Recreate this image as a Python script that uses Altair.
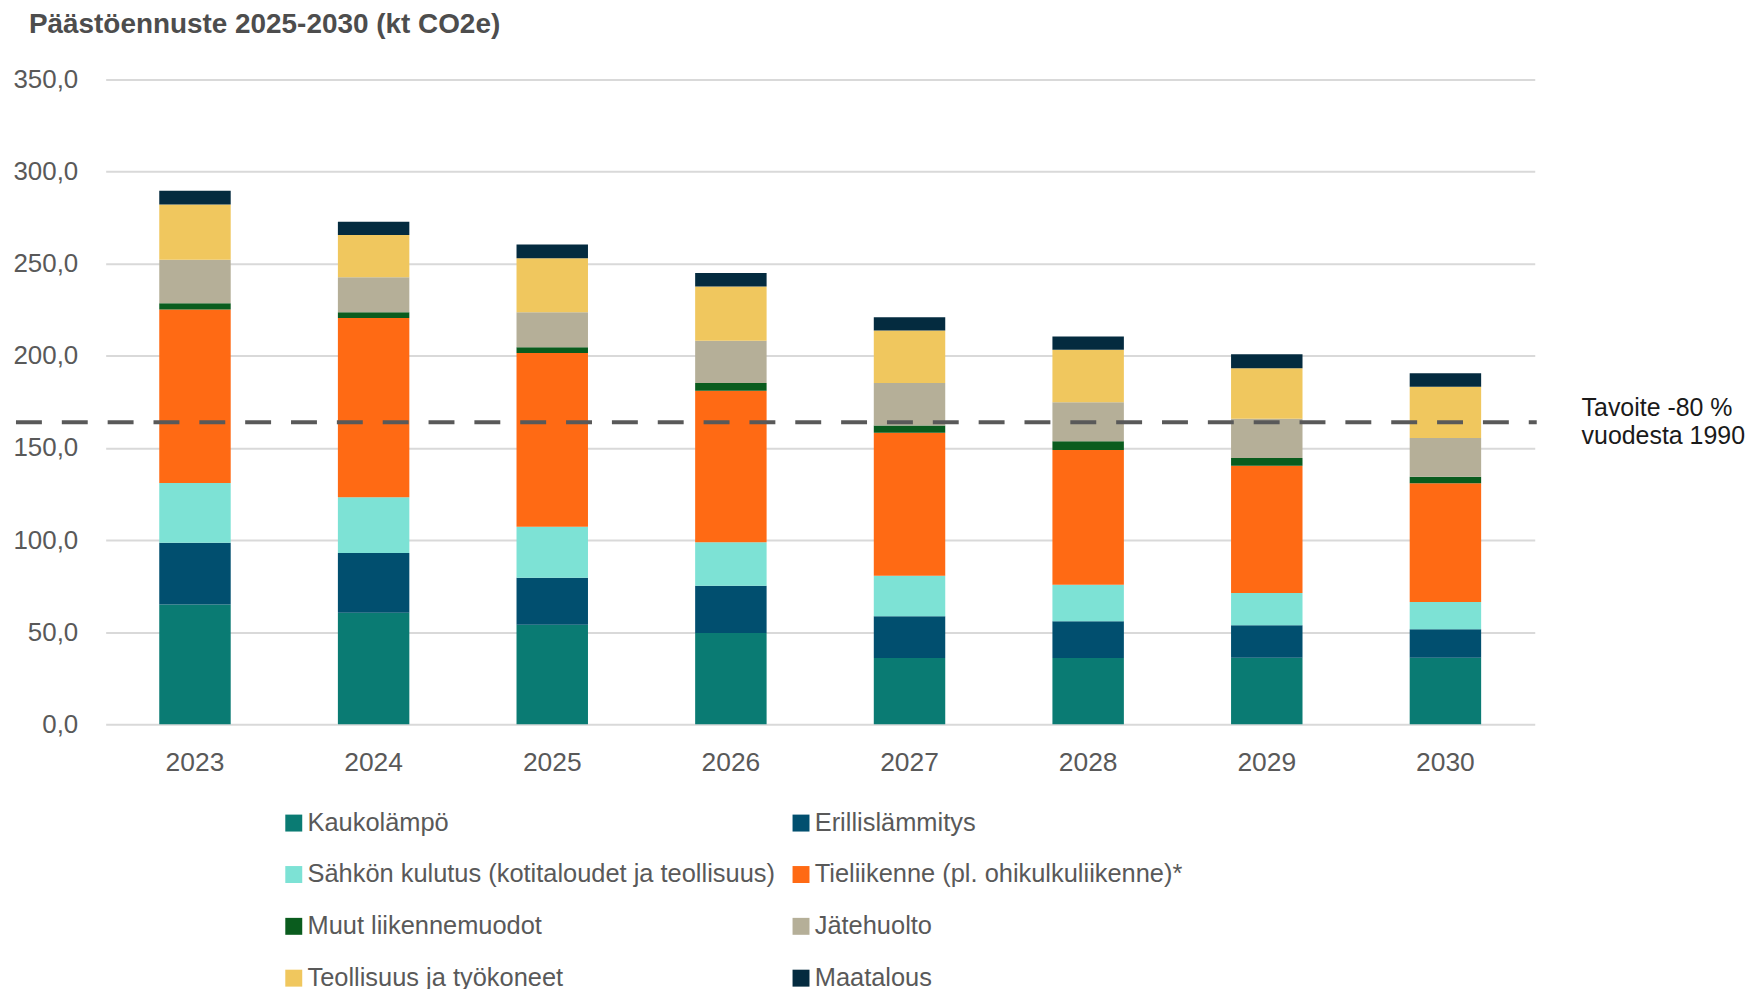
import altair as alt
import pandas as pd

years = ["2023", "2024", "2025", "2026", "2027", "2028", "2029", "2030"]
series = [
    "Kaukolämpö",
    "Erillislämmitys",
    "Sähkön kulutus (kotitaloudet ja teollisuus)",
    "Tieliikenne (pl. ohikulkuliikenne)*",
    "Muut liikennemuodot",
    "Jätehuolto",
    "Teollisuus ja työkoneet",
    "Maatalous",
]
colors = ["#0A7B73", "#014F6F", "#7DE2D5", "#FF6A14", "#0A5C1E", "#B5AF98", "#F0C75E", "#042B3F"]

kaukolampo = [65.0, 60.6, 54.0, 49.6, 36.0, 36.0, 36.1, 36.1]
erillislammitys = [33.6, 32.4, 25.6, 25.6, 22.6, 19.9, 17.7, 15.5]
sahko = [32.4, 30.2, 27.6, 23.6, 22.0, 19.8, 17.4, 14.8]
tieliikenne = [94.2, 97.4, 94.4, 82.3, 77.7, 73.2, 69.2, 64.5]
muut = [3.4, 3.0, 3.0, 4.2, 3.9, 4.7, 4.1, 3.4]
jatehuolto = [23.6, 19.0, 19.0, 22.9, 23.1, 21.2, 21.4, 21.1]
teollisuus = [30.0, 23.0, 29.4, 29.4, 28.5, 28.5, 27.4, 27.8]
maatalous = [7.4, 7.2, 7.4, 7.4, 7.2, 7.2, 7.6, 7.4]

target_value = 164.0
target_label = ["Tavoite -80 %", "vuodesta 1990"]
title_text = "Päästöennuste 2025-2030 (kt CO2e)"

all_values = [kaukolampo, erillislammitys, sahko, tieliikenne, muut, jatehuolto, teollisuus, maatalous]
rows = []
for si, (name, vals) in enumerate(zip(series, all_values)):
    for y, v in zip(years, vals):
        rows.append({"Vuosi": y, "Sektori": name, "Arvo": v, "ord": si})
df = pd.DataFrame(rows)

# legend is filled column by column: reorder so rows read pairwise like the original
legend_idx = [0, 2, 4, 6, 1, 3, 5, 7]
legend_domain = [series[i] for i in legend_idx]
legend_range = [colors[i] for i in legend_idx]

W, H = 1434, 647
FONT = "Liberation Sans, Arial, sans-serif"

bars = alt.Chart(df).mark_bar(strokeWidth=0).encode(
    x=alt.X("Vuosi:N", sort=years, title=None,
            scale=alt.Scale(paddingInner=0.6, paddingOuter=0.3),
            axis=alt.Axis(labelAngle=0, labelFontSize=26.5, labelColor="#595959",
                          labelFont=FONT, ticks=False, domain=False, grid=False,
                          labelPadding=25)),
    y=alt.Y("Arvo:Q", stack="zero", title=None,
            scale=alt.Scale(domain=[0, 350], nice=False),
            axis=alt.Axis(values=[0, 50, 100, 150, 200, 250, 300, 350],
                          labelExpr="replace(format(datum.value, '.1f'), '.', ',')",
                          labelFontSize=26, labelColor="#595959", labelFont=FONT,
                          ticks=False, domain=False, labelPadding=28,
                          gridColor="#D9D9D9", gridWidth=2)),
    color=alt.Color("Sektori:N",
                    scale=alt.Scale(domain=legend_domain, range=legend_range),
                    legend=alt.Legend(title=None, orient="none", legendX=176, legendY=733,
                                      columns=2, columnPadding=13, rowPadding=25,
                                      symbolType="square", symbolSize=289, symbolStrokeWidth=0,
                                      labelFontSize=25.5, labelColor="#595959", labelFont=FONT,
                                      labelOffset=1, padding=0, labelLimit=700)),
    order=alt.Order("ord:Q", sort="ascending"),
)

tdf = pd.DataFrame({"t": [target_value]})
rule = alt.Chart(tdf).mark_rule(color="#595959", strokeWidth=4, strokeDash=[26, 20]).encode(
    y="t:Q", x=alt.value(-90), x2=alt.value(1436)
)

label_df = pd.DataFrame({"t": [target_value], "txt": [target_label]})
label = alt.Chart(label_df).mark_text(
    align="left", baseline="alphabetic", fontSize=25, font=FONT, color="#1A1A1A",
    lineHeight=28, dy=-6
).encode(y="t:Q", x=alt.value(1481), text="txt")

chart = alt.layer(bars, rule, label).properties(
    width=W, height=H,
    background="white",
    autosize=alt.AutoSizeParams(type="none"),
    padding={"left": 98, "top": 70, "right": 214, "bottom": 300},
    title=alt.TitleParams(title_text, anchor="start", frame="group", fontSize=28,
                          font=FONT, fontWeight="bold", color="#4D4D4D", dx=-77, offset=28),
).configure_view(strokeWidth=0, stroke="transparent")

chart.save("out.html", embed_options={"renderer": "svg", "actions": False})
